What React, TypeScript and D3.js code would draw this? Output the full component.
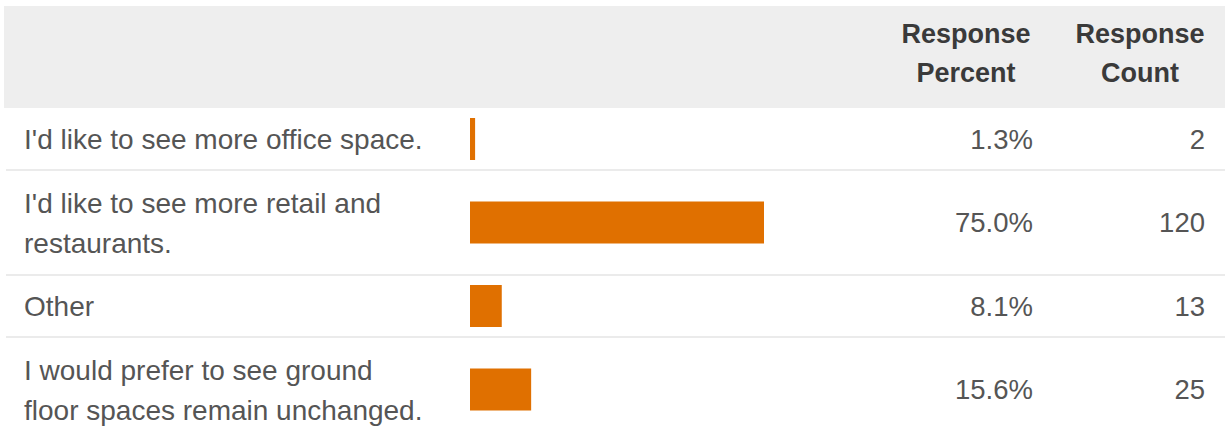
import React from "react";
import * as d3 from "d3";

const categories: string[][] = [
  ["I'd like to see more office space."],
  ["I'd like to see more retail and", "restaurants."],
  ["Other"],
  ["I would prefer to see ground", "floor spaces remain unchanged."],
];
const percents: number[] = [1.3, 75.0, 8.1, 15.6];
const counts: number[] = [2, 120, 13, 25];
const headerPercent: string[] = ["Response", "Percent"];
const headerCount: string[] = ["Response", "Count"];

const W = 1225;
const H = 441;
const FONT = "'Liberation Sans', Arial, Helvetica, sans-serif";
const LINE_H = 40;
const ROW_LINE = 43;
const PAD = 19;
const HEADER_TOP = 6;
const HEADER_BOTTOM = 108;
const BAR_H = 42;

export default function App() {
  const x = d3.scaleLinear().domain([0, 100]).range([470, 862]);

  const heights = categories.map((c) => c.length * ROW_LINE + PAD);
  const tops: number[] = [];
  let acc = HEADER_BOTTOM;
  heights.forEach((h) => {
    tops.push(acc);
    acc += h;
  });

  return (
    <svg
      width={W}
      height={H}
      style={{ position: "absolute", left: 0, top: 0, background: "#fff" }}
      fontFamily={FONT}
    >
      <rect x={0} y={0} width={W} height={H} fill="#ffffff" />
      <rect
        x={4}
        y={HEADER_TOP}
        width={W - 4}
        height={HEADER_BOTTOM - HEADER_TOP}
        fill="#eeeeee"
      />
      {headerPercent.map((t, i) => (
        <text
          key={"hp" + i}
          x={966}
          y={43 + i * 39}
          textAnchor="middle"
          fontSize={27}
          fontWeight="bold"
          fill="#3a3a3a"
        >
          {t}
        </text>
      ))}
      {headerCount.map((t, i) => (
        <text
          key={"hc" + i}
          x={1140}
          y={43 + i * 39}
          textAnchor="middle"
          fontSize={27}
          fontWeight="bold"
          fill="#3a3a3a"
        >
          {t}
        </text>
      ))}
      {categories.map((lines, i) => {
        const top = tops[i];
        const h = heights[i];
        const cy = top + h / 2;
        return (
          <g key={i}>
            {lines.map((l, j) => (
              <text
                key={j}
                x={24}
                y={cy + (j - (lines.length - 1) / 2) * LINE_H + 10}
                fontSize={28}
                fill="#555555"
              >
                {l}
              </text>
            ))}
            <rect
              x={x(0)}
              y={cy - BAR_H / 2}
              width={x(percents[i]) - x(0)}
              height={BAR_H}
              fill="#e07000"
            />
            <text
              x={1033}
              y={cy + 9.5}
              textAnchor="end"
              fontSize={27.5}
              fill="#555555"
            >
              {percents[i].toFixed(1) + "%"}
            </text>
            <text
              x={1205}
              y={cy + 9.5}
              textAnchor="end"
              fontSize={27.5}
              fill="#555555"
            >
              {String(counts[i])}
            </text>
            <line
              x1={6}
              x2={W}
              y1={top + h}
              y2={top + h}
              stroke="#e4e4e4"
              strokeWidth={1.5}
            />
          </g>
        );
      })}
    </svg>
  );
}
